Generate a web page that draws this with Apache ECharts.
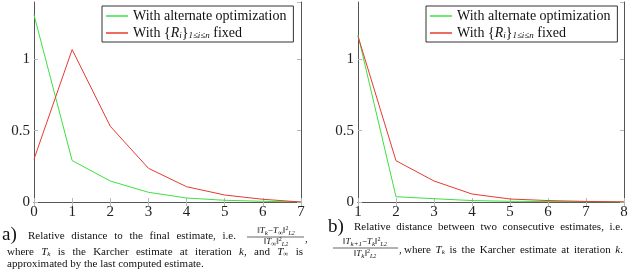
<!DOCTYPE html>
<html>
<head>
<meta charset="utf-8">
<script src="https://cdn.jsdelivr.net/npm/echarts@6/dist/echarts.min.js"></script>
<style>
  html, body { margin: 0; padding: 0; background: #fff; }
  #chart { width: 634px; height: 275px; }
</style>
</head>
<body>
<div id="chart"></div>
<script>
// panel a: distance to the final estimate
const iterA = ['0', '1', '2', '3', '4', '5', '6', '7'];
const altA = [1.31, 0.29, 0.147, 0.068, 0.028, 0.012, 0.005, 0.0];
const fixedA = [0.30, 1.067, 0.53, 0.236, 0.107, 0.049, 0.019, 0.0];

// panel b: distance between consecutive estimates
const iterB = ['1', '2', '3', '4', '5', '6', '7', '8'];
const altB = [1.168, 0.037, 0.023, 0.01, 0.005, 0.003, 0.001, 0.0];
const fixedB = [1.16, 0.289, 0.147, 0.056, 0.021, 0.01, 0.004, 0.001];

const yMin = 0;
const yMax = 1.4;
const yStep = 0.5;

const nameAlt = 'With alternate optimization';
const nameFixed = 'With {Ri} fixed';

const SERIF = "'Liberation Serif', 'DejaVu Serif', serif";
const GREEN = '#3ee03e';
const RED = '#e63a32';
const FRAME = '#555';
const TICK = '#b8b8b8';

const chart = echarts.init(document.getElementById('chart'));

const grids = [
  { left: 34, right: 333, top: 2, bottom: 73 },
  { left: 358, right: 10, top: 2, bottom: 73 }
];

const makeX = (gridIndex, data, position, showLabel) => ({
  type: 'category',
  gridIndex,
  position,
  data,
  boundaryGap: false,
  axisLine: { show: true, lineStyle: { color: FRAME, width: 1 } },
  axisTick: { show: true, inside: true, length: 4, lineStyle: { color: TICK } },
  axisLabel: { show: showLabel, fontFamily: SERIF, fontSize: 15, color: '#222', margin: 3 },
  splitLine: { show: false }
});

const makeY = (gridIndex, position, showLabel) => ({
  type: 'value',
  gridIndex,
  position,
  min: yMin,
  max: yMax,
  interval: yStep,
  axisLine: { show: true, lineStyle: { color: FRAME, width: 1 } },
  axisTick: { show: true, inside: true, length: 4, lineStyle: { color: TICK } },
  axisLabel: { show: showLabel, showMaxLabel: false, fontFamily: SERIF, fontSize: 15, color: '#222', margin: 4 },
  splitLine: { show: false }
});

const makeLine = (name, data, color, xAxisIndex, yAxisIndex) => ({
  name,
  type: 'line',
  data,
  xAxisIndex,
  yAxisIndex,
  symbol: 'none',
  smooth: false,
  lineStyle: { color, width: 1 },
  itemStyle: { color },
  animation: false
});

const legendRich = {
  it: { fontFamily: SERIF, fontSize: 14, fontStyle: 'italic', color: '#111' },
  s: { fontFamily: SERIF, fontSize: 9, fontStyle: 'italic', color: '#111', verticalAlign: 'bottom', padding: [5, 0, 0, 0] }
};

const makeLegend = (left) => ({
  left,
  top: 6,
  orient: 'vertical',
  data: [nameAlt, nameFixed],
  icon: 'rect',
  itemWidth: 22,
  itemHeight: 1.5,
  itemGap: 3,
  padding: [3, 7, 2, 4],
  borderColor: '#333',
  borderWidth: 1,
  backgroundColor: '#fff',
  textStyle: { fontFamily: SERIF, fontSize: 14, color: '#111', rich: legendRich },
  formatter: (name) => name === nameFixed ? 'With {{it|R}{s|i}}{s|1≤i≤n} fixed' : name,
  selectedMode: false
});

// caption text pieces
const capRich = {
  it: { fontFamily: SERIF, fontSize: 11, fontStyle: 'italic', color: '#111' },
  s: { fontFamily: SERIF, fontSize: 7, fontStyle: 'italic', color: '#111', verticalAlign: 'bottom', padding: [4, 0, 0, 0] },
  ss: { fontFamily: SERIF, fontSize: 6, fontStyle: 'italic', color: '#111', verticalAlign: 'bottom', padding: [5, 0, 0, 0] },
  p: { fontFamily: SERIF, fontSize: 6, color: '#111', verticalAlign: 'top', padding: [0, 0, 5, 0] },
  fit: { fontFamily: SERIF, fontSize: 9, fontStyle: 'italic', color: '#111' },
  f: { fontFamily: SERIF, fontSize: 9, color: '#111' }
};

const CAP = 11;

const txt = (x, y, text, size, align) => ({
  type: 'text',
  x,
  y,
  style: {
    text,
    fontFamily: SERIF,
    fontSize: size,
    fill: '#111',
    align: align || 'left',
    verticalAlign: 'middle',
    rich: capRich
  }
});

// width of a rich caption word, measured on a canvas
const ctx = document.createElement('canvas').getContext('2d');
const plainWidth = (s, size, italic) => {
  if (!s) return 0;
  ctx.font = (italic ? 'italic ' : '') + size + 'px ' + SERIF;
  return ctx.measureText(s).width;
};
const richWidth = (s) => {
  const re = /\{(\w+)\|([^}]*)\}/g;
  let w = 0, last = 0, m;
  while ((m = re.exec(s))) {
    w += plainWidth(s.slice(last, m.index), CAP, false);
    const st = capRich[m[1]];
    w += plainWidth(m[2], st.fontSize, st.fontStyle === 'italic');
    last = re.lastIndex;
  }
  return w + plainWidth(s.slice(last), CAP, false);
};

// justified caption line between x0 and x1
const justify = (y, x0, x1, list) => {
  const widths = list.map(richWidth);
  const total = widths.reduce((a, b) => a + b, 0);
  const gap = (x1 - x0 - total) / (list.length - 1);
  let x = x0;
  return list.map((w, i) => {
    const el = txt(x, y, w, CAP);
    x += widths[i] + gap;
    return el;
  });
};

const rule = (x1, x2, y) => ({
  type: 'line',
  shape: { x1, y1: y, x2, y2: y },
  style: { stroke: '#222', lineWidth: 0.7 }
});

const captions = [
  txt(2, 235, 'a)', 19),
  ...justify(236, 28, 236, ['Relative', 'distance', 'to', 'the', 'final', 'estimate,', 'i.e.']),
  txt(276, 231, '{f|‖}{fit|T}{s|k}{f|−}{fit|T}{s|∞}{f|‖}{p|2}{ss|L2}', 9, 'center'),
  rule(247, 304, 237),
  txt(276, 242, '{f|‖}{fit|T}{s|∞}{f|‖}{p|2}{ss|L2}', 9, 'center'),
  txt(305, 239, ',', CAP),
  ...justify(252, 7, 303, ['where', '{it|T}{s|k}', 'is', 'the', 'Karcher', 'estimate', 'at', 'iteration',
    '{it|k},', 'and', '{it|T}{s|∞}', 'is']),
  txt(7, 264, 'approximated by the last computed estimate.', CAP),

  txt(328, 227, 'b)', 19),
  ...justify(227, 354, 623, ['Relative', 'distance', 'between', 'two', 'consecutive', 'estimates,', 'i.e.']),
  txt(365, 242, '{f|‖}{fit|T}{s|k+1}{f|−}{fit|T}{s|k}{f|‖}{p|2}{ss|L2}', 9, 'center'),
  rule(333, 398, 248),
  txt(365, 254, '{f|‖}{fit|T}{s|k}{f|‖}{p|2}{ss|L2}', 9, 'center'),
  txt(399, 250, ',', CAP),
  ...justify(250, 404, 623, ['where', '{it|T}{s|k}', 'is', 'the', 'Karcher', 'estimate', 'at', 'iteration', '{it|k}.'])
];

const option = {
  animation: false,
  backgroundColor: '#fff',
  grid: grids,
  xAxis: [
    makeX(0, iterA, 'bottom', true),
    makeX(0, iterA, 'top', false),
    makeX(1, iterB, 'bottom', true),
    makeX(1, iterB, 'top', false)
  ],
  yAxis: [
    makeY(0, 'left', true),
    makeY(0, 'right', false),
    makeY(1, 'left', true),
    makeY(1, 'right', false)
  ],
  legend: [makeLegend(102), makeLegend(426)],
  series: [
    makeLine(nameAlt, altA, GREEN, 0, 0),
    makeLine(nameFixed, fixedA, RED, 0, 0),
    makeLine(nameAlt, altB, GREEN, 2, 2),
    makeLine(nameFixed, fixedB, RED, 2, 2)
  ],
  graphic: captions
};

chart.setOption(option);
</script>
</body>
</html>
